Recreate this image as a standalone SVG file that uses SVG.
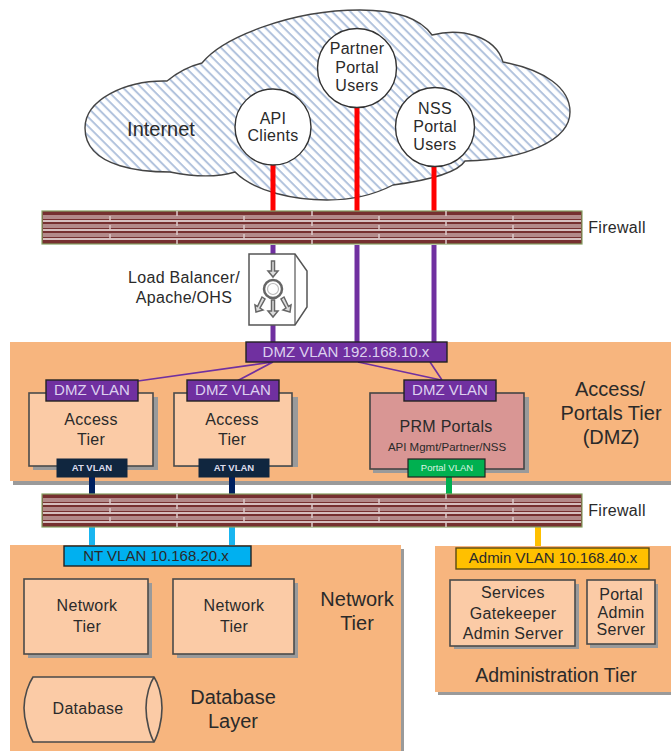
<svg xmlns="http://www.w3.org/2000/svg" width="671" height="751" viewBox="0 0 671 751">
<style>
text{font-family:"Liberation Sans",Arial,sans-serif;fill:#2a2a2a;text-anchor:middle}
.t16{font-size:16px;letter-spacing:.3px}.t20{font-size:20px}
.tier{fill:#f7b57e}
.shadow{fill:#9a9a9a}
.box{fill:#fbcba6;stroke:#4a4a4a;stroke-width:1.6}
.user{fill:#fff;stroke:#333;stroke-width:1.4}
.vlanp{fill:#7030a0;stroke:#222;stroke-width:1.4}
.vlant{fill:#ddd0ef;font-size:15px}
.bar{fill:none;stroke-width:5}
</style>
<defs>
<pattern id="hatch" width="6.500" height="6.500" patternUnits="userSpaceOnUse" patternTransform="rotate(45)">
<rect width="6.500" height="6.500" fill="#fff"/><rect width="6.500" height="2" fill="#b2c3dd"/>
</pattern>
<g id="fw">
<rect x="0" y="0" width="540" height="33" fill="#763030" stroke="#86a063" stroke-width="1.200"/>
<path d="M1 6H539M1 15H539M1 24H539" fill="none" stroke="#b38a8a" stroke-width="4"/>
<path d="M1 10H539M1 19H539M1 28H539" fill="none" stroke="#f6eeee" stroke-width="1.300"/>
<path d="M68 5v5M68 14v5M68 23v5M202 5v5M202 14v5M202 23v5M337 5v5M337 14v5M337 23v5M471 5v5M471 14v5M471 23v5M135 0v5M135 10v5M135 19v5M135 28v5M270 0v5M270 10v5M270 19v5M270 28v5M404 0v5M404 10v5M404 19v5M404 28v5" fill="none" stroke="#ddc9c9" stroke-width="1.500"/>
</g>
</defs>

<g id="internet">
<path d="M167 81C178 72 190 66 202 63C222 38 290 10 360 10C395 10 420 18 432 35C460 28 495 35 503 62C545 70 570 88 570 112C570 140 525 160 465 161C458 172 430 180 393 185C370 197 345 200 327 200C295 200 255 192 235 172C215 178 190 176 170 172C150 172 85 170 85 128C85 100 125 80 167 81Z" fill="url(#hatch)" stroke="#444" stroke-width="1.400"/>
<text x="161" y="136" class="t20">Internet</text>
</g>

<g id="connectors">
<g class="bar" stroke="#f00">
<line x1="273" y1="165" x2="273" y2="212"/><line x1="357" y1="107" x2="357" y2="212"/><line x1="434" y1="166" x2="434" y2="212"/>
</g>
<g class="bar" stroke="#7030a0">
<line x1="273" y1="245" x2="273" y2="344"/><line x1="357" y1="245" x2="357" y2="344"/><line x1="434" y1="245" x2="434" y2="344"/>
</g>
</g>

<g id="tier-dmz">
<rect x="13" y="345" width="664" height="140" class="shadow"/>
<rect x="10" y="342" width="661" height="139" class="tier"/>
<text x="610" y="396" class="t20">Access/</text><text x="611" y="420" class="t20">Portals Tier</text><text x="611" y="444" class="t20">(DMZ)</text>
</g>

<g id="connectors-2">
<path d="M273 362L138 381M273 362L237 381M358 362L441 380M430 362L442 380" fill="none" stroke="#7030a0" stroke-width="1.600"/>
<line x1="92" y1="475" x2="92" y2="494" class="bar" stroke="#002060" style="stroke-width:6"/>
<line x1="232" y1="475" x2="232" y2="494" class="bar" stroke="#002060" style="stroke-width:6"/>
<line x1="449" y1="475" x2="449" y2="494" class="bar" stroke="#00b050" style="stroke-width:6"/>
<line x1="92" y1="526" x2="92" y2="546" class="bar" stroke="#19b5f0" style="stroke-width:6"/>
<line x1="232" y1="526" x2="232" y2="546" class="bar" stroke="#19b5f0" style="stroke-width:6"/>
<line x1="538" y1="526" x2="538" y2="548" class="bar" stroke="#ffc000" style="stroke-width:6"/>
</g>

<g id="api-clients"><circle cx="273" cy="127" r="38" class="user"/><text x="273" y="124" class="t16">API</text><text x="273" y="141" class="t16">Clients</text></g>
<g id="partner-users"><circle cx="357" cy="68" r="39.500" class="user"/><text x="357" y="54" class="t16">Partner</text><text x="357" y="73" class="t16">Portal</text><text x="357" y="91" class="t16">Users</text></g>
<g id="nss-users"><circle cx="435" cy="127" r="39.500" class="user"/><text x="435" y="114" class="t16">NSS</text><text x="435" y="132" class="t16">Portal</text><text x="435" y="150" class="t16">Users</text></g>

<g id="firewall-1"><use href="#fw" x="42" y="211"/><text x="617" y="233" class="t16">Firewall</text></g>
<g id="firewall-2"><use href="#fw" x="42" y="494"/><text x="617" y="516" class="t16">Firewall</text></g>

<g id="load-balancer">
<text x="184" y="283" class="t16">Load Balancer/</text><text x="184" y="303" class="t16">Apache/OHS</text>
<path d="M249 254H295L307 271V307L295 325H249Z" fill="#fff" stroke="#555" stroke-width="1.500"/>
<path d="M295 254V325" fill="none" stroke="#555" stroke-width="1.200"/>
<circle cx="273" cy="289" r="9" fill="none" stroke="#666" stroke-width="2.500"/><circle cx="273" cy="289" r="5.500" fill="#fff" stroke="#bbb" stroke-width="1.200"/>
<g fill="#ddd" stroke="#666" stroke-width="1.500">
<path d="M271.500 261H274.500V271H278L273 277L268 271H271.500Z"/>
<path d="M271.500 300H274.500V311H278L273 317L268 311H271.500Z"/>
<path d="M262 297L265 299L260 308L263 310L256 312L255 305L257.500 306.500Z"/>
<path d="M284 297L281 299L286 308L283 310L290 312L291 305L288.500 306.500Z"/>
</g>
</g>

<g id="dmz-vlan"><rect x="246" y="342" width="201" height="20" class="vlanp"/><text x="346" y="357" class="vlant">DMZ VLAN 192.168.10.x</text></g>

<g id="access-1">
<rect x="33" y="397" width="125" height="73" class="shadow"/><rect x="29" y="393" width="124" height="73" class="box"/>
<text x="91" y="425" class="t16">Access</text><text x="91" y="445" class="t16">Tier</text>
<rect x="46" y="380" width="92" height="21" class="vlanp"/><text x="92" y="395" class="vlant">DMZ VLAN</text>
<rect x="57" y="459" width="70" height="18" fill="#10263f" stroke="#10263f"/><text x="92" y="471" font-size="9.500" font-weight="bold" style="fill:#dde">AT VLAN</text>
</g>
<g id="access-2">
<rect x="178" y="397" width="120" height="70" class="shadow"/><rect x="174" y="393" width="118" height="73" class="box"/>
<text x="232" y="425" class="t16">Access</text><text x="232" y="445" class="t16">Tier</text>
<rect x="187" y="380" width="92" height="21" class="vlanp"/><text x="233" y="395" class="vlant">DMZ VLAN</text>
<rect x="199" y="459" width="70" height="18" fill="#10263f" stroke="#10263f"/><text x="234" y="471" font-size="9.500" font-weight="bold" style="fill:#dde">AT VLAN</text>
</g>
<g id="prm-portals">
<rect x="373" y="397" width="156" height="76" class="shadow"/><rect x="370" y="393" width="154" height="76" fill="#d99694" stroke="#444" stroke-width="1.600"/>
<text x="446" y="432" class="t16">PRM Portals</text><text x="447" y="451" font-size="11.500">API Mgmt/Partner/NSS</text>
<rect x="404" y="380" width="92" height="21" class="vlanp"/><text x="450" y="395" class="vlant">DMZ VLAN</text>
<rect x="408" y="459" width="77" height="18" fill="#00b050" stroke="#222" stroke-width="1.200"/><text x="447" y="471" font-size="9.500" style="fill:#dcf5e4">Portal VLAN</text>
</g>

<g id="tier-network">
<rect x="13" y="549" width="391" height="202" class="shadow"/>
<rect x="10" y="545" width="391" height="206" class="tier"/>
<text x="357" y="606" class="t20">Network</text><text x="357" y="630" class="t20">Tier</text>
<text x="233" y="704" class="t20">Database</text><text x="233" y="728" class="t20">Layer</text>
</g>
<g id="nt-vlan"><rect x="64" y="546" width="187" height="20" fill="#00b0f0" stroke="#222" stroke-width="1.400"/><text x="156" y="561" font-size="15">NT VLAN 10.168.20.x</text></g>
<g id="network-1"><rect x="28" y="583" width="124" height="75" class="shadow"/><rect x="24" y="579" width="124" height="75" class="box"/><text x="87" y="611" class="t16">Network</text><text x="87" y="632" class="t16">Tier</text></g>
<g id="network-2"><rect x="177" y="583" width="121" height="75" class="shadow"/><rect x="173" y="579" width="121" height="75" class="box"/><text x="234" y="611" class="t16">Network</text><text x="234" y="632" class="t16">Tier</text></g>
<g id="database">
<path d="M33 677H154C158 683 162 695 162 708C162 721 158 735 154 742H33C29 735 24 721 24 708C24 695 29 683 33 677Z" class="box"/>
<path d="M154 677C150 683 146 695 146 708C146 721 150 735 154 742" fill="none" stroke="#4a4a4a" stroke-width="1.600"/>
<text x="88" y="714" class="t16">Database</text>
</g>

<g id="tier-admin">
<rect x="438" y="550" width="233" height="145" class="shadow"/>
<rect x="435" y="546" width="236" height="146" class="tier"/>
<text x="556" y="682" style="font-size:19.500px">Administration Tier</text>
</g>
<g id="admin-vlan"><rect x="456" y="548" width="193" height="21" fill="#ffc000" stroke="#5a4a10" stroke-width="1.400"/><text x="553" y="563" font-size="15">Admin VLAN 10.168.40.x</text></g>
<g id="gatekeeper"><rect x="454" y="584" width="125" height="65" class="shadow"/><rect x="450" y="580" width="125" height="66" class="box"/><text x="513" y="598" class="t16">Services</text><text x="513" y="619" class="t16">Gatekeeper</text><text x="513" y="639" class="t16">Admin Server</text></g>
<g id="portal-admin"><rect x="590" y="584" width="68" height="64" class="shadow"/><rect x="587" y="580" width="68" height="64" class="box"/><text x="621" y="600" class="t16">Portal</text><text x="621" y="618" class="t16">Admin</text><text x="621" y="635" class="t16">Server</text></g>
</svg>
